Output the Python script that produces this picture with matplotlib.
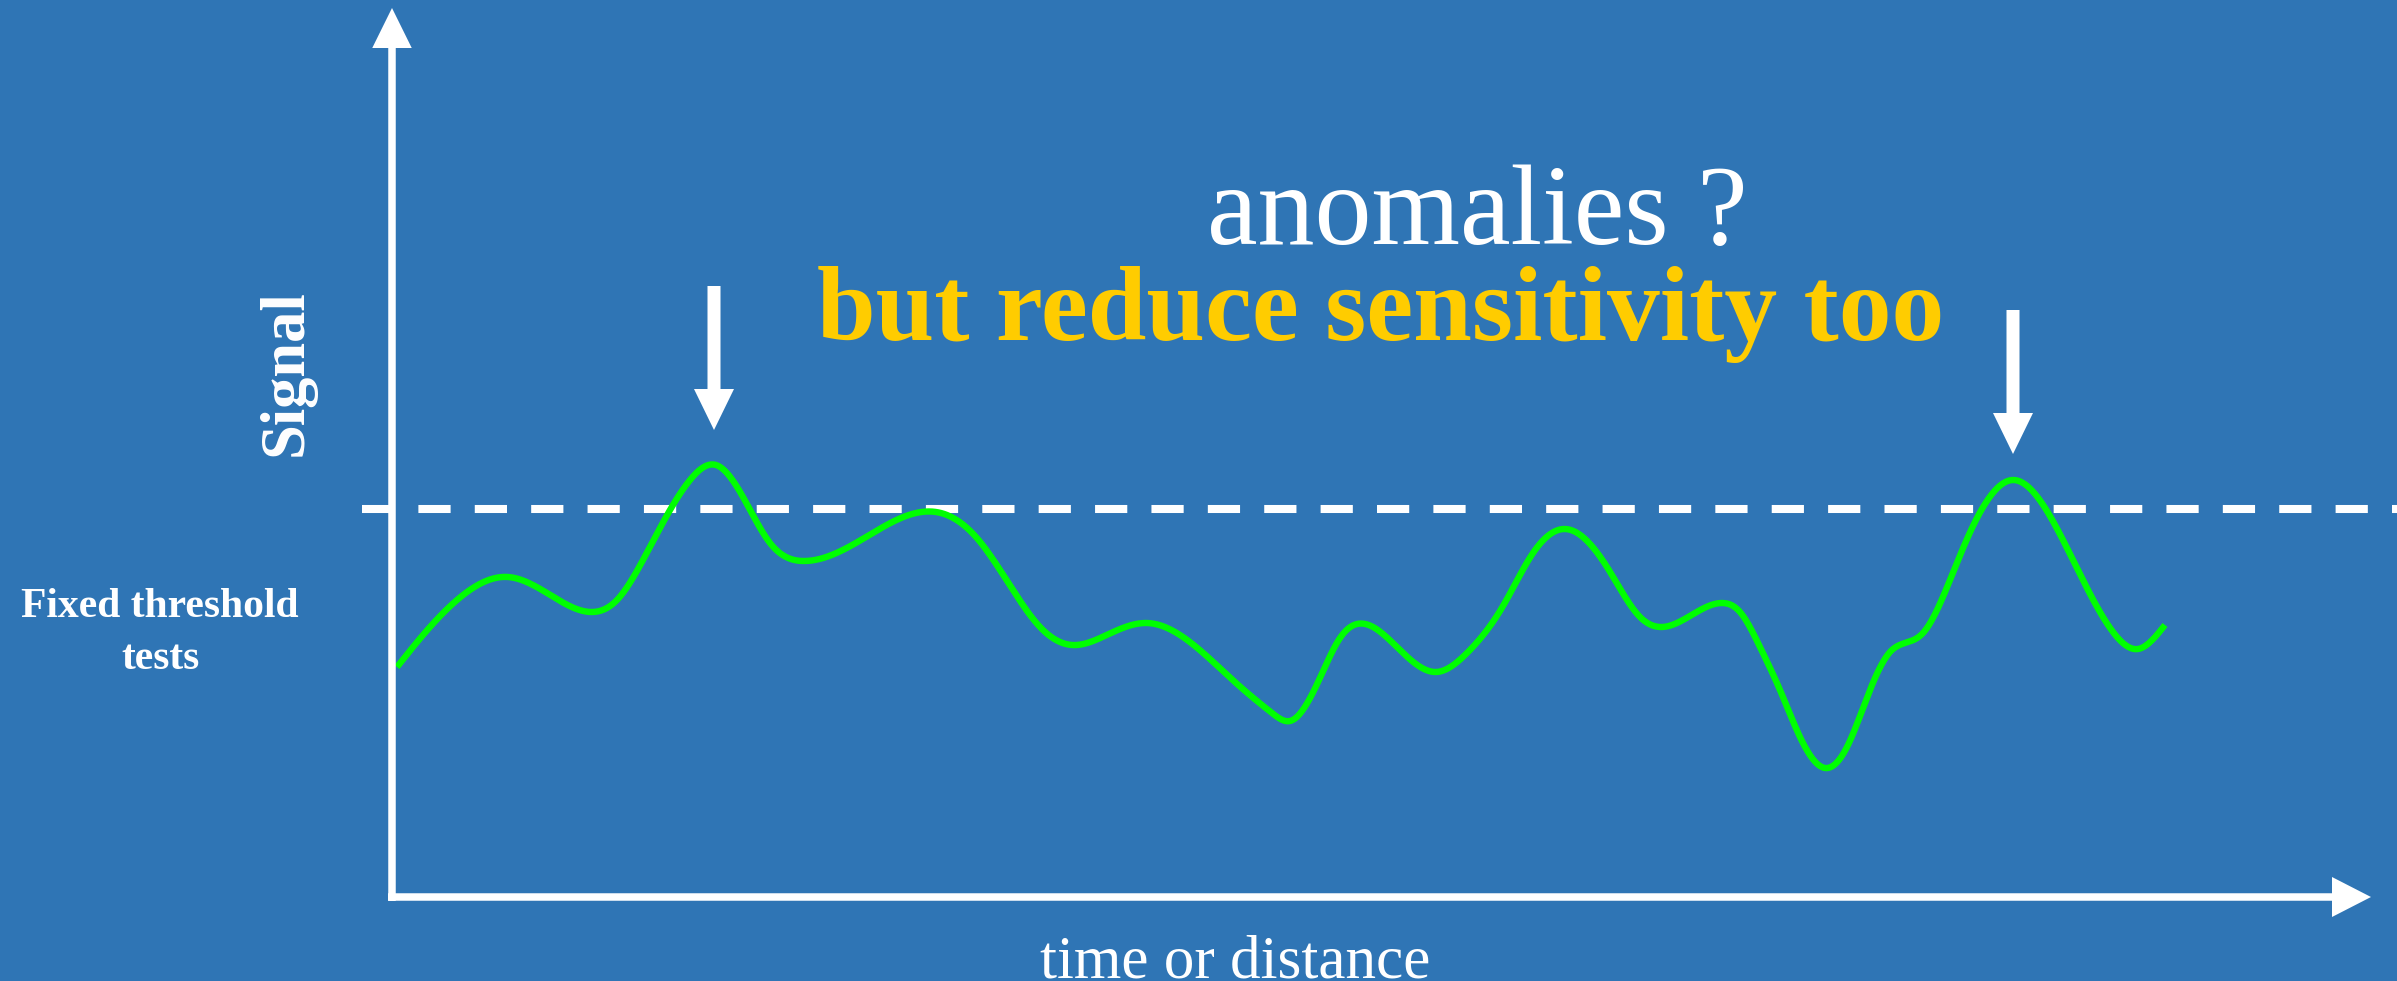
import numpy as np
import matplotlib
matplotlib.use("Agg")
import matplotlib.pyplot as plt
from matplotlib.patches import FancyArrow

# ---- data -------------------------------------------------------------
# signal samples along the time/distance axis (arbitrary units)
time_pts = [0.5, 3.1, 6.5, 11.6, 15.5, 20.0, 22.5, 25.1, 27.8, 29.8,
            32.4, 35.1, 37.8, 41.2, 46.9, 54.4, 58.4, 61.9, 64.8, 68.0,
            71.9, 75.5, 79.1, 84.4, 88.0, 89.8, 92.7, 94.8, 96.5, 100.8,
            104.4, 107.5, 111.1, 114.1, 117.3, 121.5, 124.8, 127.0, 133.0,
            134.8, 136.8, 138.8, 140.8, 143.3, 145.5, 147.8, 149.8, 151.3,
            153.1, 155.8, 157.5, 162.1, 167.5, 172.1, 174.6, 177.3]
signal_pts = [23.0, 26.2, 29.7, 32.0, 30.4, 28.5, 29.7, 33.7, 38.7, 41.7,
              43.2, 40.0, 35.4, 33.6, 35.7, 38.5, 36.0, 31.0, 27.0, 25.2,
              26.4, 27.4, 26.0, 21.4, 18.4, 17.6, 21.7, 25.9, 27.3, 24.7,
              22.5, 24.4, 29.1, 34.4, 36.8, 33.0, 28.0, 27.0, 29.4,
              28.5, 25.0, 20.7, 16.0, 12.9, 15.0, 20.7, 24.5, 25.4,
              26.4, 31.7, 35.8, 41.7, 34.9, 26.5, 24.8, 27.2]
threshold = 38.8

# flagged peaks (arrow position, arrow tip and arrow tail levels)
flag_time = [32.2, 162.1]
flag_tip = [46.7, 44.3]
flag_top = [61.1, 58.7]

title_text = "anomalies ?"
subtitle_text = "but reduce sensitivity too"
ylabel_text = "Signal"
xlabel_text = "time or distance"
side_lines = ["Fixed threshold", "tests"]

# ---- style ------------------------------------------------------------
BG = "#2F75B5"
GREEN = "#00FF00"
YELLOW = "#FFCC00"
WHITE = "white"
SERIF = "Liberation Serif"


def natural_spline(x, y, xs):
    """Natural cubic spline through the samples, evaluated at xs."""
    x = np.asarray(x, float)
    y = np.asarray(y, float)
    n = len(x)
    h = np.diff(x)
    A = np.zeros((n, n))
    b = np.zeros(n)
    A[0, 0] = A[-1, -1] = 1.0
    for i in range(1, n - 1):
        A[i, i - 1] = h[i - 1]
        A[i, i] = 2 * (h[i - 1] + h[i])
        A[i, i + 1] = h[i]
        b[i] = 3 * ((y[i + 1] - y[i]) / h[i] - (y[i] - y[i - 1]) / h[i - 1])
    c = np.linalg.solve(A, b)
    bb = (y[1:] - y[:-1]) / h - h * (2 * c[:-1] + c[1:]) / 3
    dd = (c[1:] - c[:-1]) / (3 * h)
    idx = np.clip(np.searchsorted(x, xs) - 1, 0, n - 2)
    dx = xs - x[idx]
    return y[idx] + bb[idx] * dx + c[idx] * dx**2 + dd[idx] * dx**3


fig = plt.figure(figsize=(23.97, 9.81), dpi=100, facecolor=BG)
ax = fig.add_axes([0, 0, 1, 1])
ax.set_facecolor(BG)
ax.set_xlim(-39.2, 200.5)
ax.set_ylim(-8.4, 89.7)
ax.axis("off")

# fixed threshold
thr, = ax.plot([-3.0, 205], [threshold, threshold], color=WHITE,
               lw=5.8, solid_capstyle="butt", dash_capstyle="butt", zorder=2)
thr.set_dashes((4, 3))

# signal curve
tt = np.linspace(time_pts[0], time_pts[-1], 3000)
ax.plot(tt, natural_spline(time_pts, signal_pts, tt), color=GREEN, lw=4.6,
        solid_capstyle="butt", zorder=3)

# axes drawn as arrows
ax.add_patch(FancyArrow(0, -0.4, 0, 89.3, width=0.75, head_width=3.95,
                        head_length=4.0, length_includes_head=True,
                        color=WHITE, lw=0, zorder=4))
ax.add_patch(FancyArrow(-0.4, 0, 198.3, 0, width=0.75, head_width=4.0,
                        head_length=3.9, length_includes_head=True,
                        color=WHITE, lw=0, zorder=4))

# arrows pointing to the flagged peaks
for xt, tip, top in zip(flag_time, flag_tip, flag_top):
    ax.add_patch(FancyArrow(xt, top, 0, tip - top, width=1.3, head_width=4.0,
                            head_length=4.1, length_includes_head=True,
                            color=WHITE, lw=0, zorder=4))

# texts
ax.text(108.5, 65.3, title_text, color=WHITE, fontsize=82, family=SERIF,
        ha="center", va="baseline")
ax.text(98.9, 55.7, subtitle_text, color=YELLOW, fontsize=76, family=SERIF,
        fontweight="bold", ha="center", va="baseline")
ax.text(-10.5, 52.45, ylabel_text, color=WHITE, fontsize=45,
        family=SERIF, fontweight="bold", rotation=90,
        ha="center", va="center")
ax.text(84.3, -8.0, xlabel_text, color=WHITE, fontsize=44, family=SERIF,
        ha="center", va="baseline")
ax.text(-23.2, 28.0, side_lines[0], color=WHITE, fontsize=30, family=SERIF,
        fontweight="bold", ha="center", va="baseline")
ax.text(-23.2, 22.8, side_lines[1], color=WHITE, fontsize=30, family=SERIF,
        fontweight="bold", ha="center", va="baseline")

fig.savefig("out.png", dpi=100, facecolor=BG)
